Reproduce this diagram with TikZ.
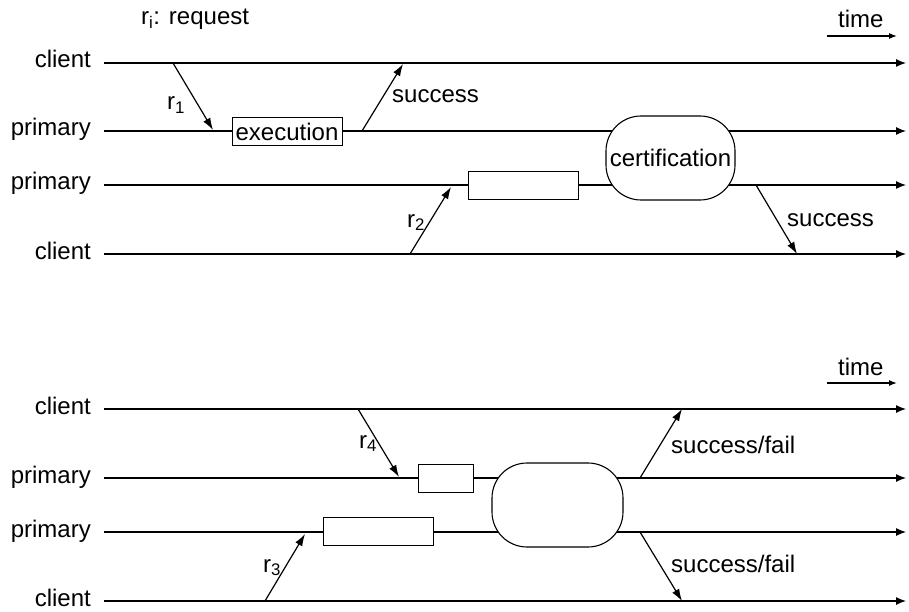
\documentclass[tikz,border=0pt]{standalone}
\usepackage{fontspec}
\setmainfont{Liberation Sans}
\usetikzlibrary{arrows.meta}

\tikzset{
  lane/.style={line width=1.2pt,-{Latex[length=10pt,width=8pt]}},
  msg/.style={line width=1.2pt,-{Latex[length=12pt,width=8pt]}},
  tick/.style={line width=1.2pt,-{Latex[length=8pt,width=6pt]}},
  exec/.style={draw,fill=white,line width=0.9pt,minimum width=110pt,minimum height=28pt,inner sep=0pt},
  cert/.style={draw,fill=white,line width=1.1pt,rounded corners=35pt,inner sep=0pt},
  who/.style={anchor=base east,inner sep=0pt},
  lbl/.style={anchor=base west,inner sep=0pt}
}

\begin{document}
\begin{tikzpicture}[x=1pt,y=-1pt,font=\fontsize{24}{28}\selectfont]
\useasboundingbox (0,0) rectangle (909,612);

% lanes
\foreach \y/\n/\t in {63/a/client,131/b/primary,185/c/primary,254/d/client,
                      409/e/client,478/f/primary,532/g/primary,601/h/client}{
  \node[who] (\n) at (91,\y+5) {\t};
  \coordinate (\n s) at (104,\y);
  \coordinate (\n e) at (906,\y);
  \draw[lane] (\n s) -- (\n e);
}

\node[lbl] (legend) at (141,25) {r\textsubscript{i}: request};

% time arrows
\node[lbl] (time1) at (838,28) {time};
\coordinate (t1a) at (827,36);
\coordinate (t1b) at (897,36);
\draw[tick] (t1a) -- (t1b);
\node[lbl] (time2) at (838,375) {time};
\coordinate (t2a) at (827,383);
\coordinate (t2b) at (897,383);
\draw[tick] (t2a) -- (t2b);

% upper run
\node[exec] (ex1) at (287,131.5) {execution};
\node[exec] (ex2) at (523,185) {};
\node[cert,minimum width=129pt,minimum height=84pt] (cert1) at (670.5,158) {certification};

\coordinate (r1a) at (173,63);
\coordinate (r1b) at (213,130);
\draw[msg] (r1a) -- (r1b);
\node[lbl] (r1) at (167,110) {r\textsubscript{1}};

\coordinate (s1a) at (362,131);
\coordinate (s1b) at (403,64);
\draw[msg] (s1a) -- (s1b);
\node[lbl] (ok1) at (392,103) {success};

\coordinate (r2a) at (410,254);
\coordinate (r2b) at (451,187);
\draw[msg] (r2a) -- (r2b);
\node[lbl] (r2) at (407,227) {r\textsubscript{2}};

\coordinate (s2a) at (756,185);
\coordinate (s2b) at (797,254);
\draw[msg] (s2a) -- (s2b);
\node[lbl] (ok2) at (787,226) {success};

% lower run
\node[exec,minimum width=55pt] (ex4) at (445.5,478) {};
\node[exec] (ex3) at (378,531.5) {};
\node[cert,minimum width=131pt,minimum height=84pt] (cert2) at (557.5,505) {};

\coordinate (r4a) at (358,409);
\coordinate (r4b) at (399,477);
\draw[msg] (r4a) -- (r4b);
\node[lbl] (r4) at (359,448) {r\textsubscript{4}};

\coordinate (r3a) at (265,601);
\coordinate (r3b) at (305,534);
\draw[msg] (r3a) -- (r3b);
\node[lbl] (r3) at (263,572) {r\textsubscript{3}};

\coordinate (s3a) at (640,478);
\coordinate (s3b) at (682,409);
\draw[msg] (s3a) -- (s3b);
\node[lbl] (sf1) at (671,453) {success/fail};

\coordinate (s4a) at (640,532);
\coordinate (s4b) at (682,601);
\draw[msg] (s4a) -- (s4b);
\node[lbl] (sf2) at (671,572) {success/fail};
\end{tikzpicture}
\end{document}
